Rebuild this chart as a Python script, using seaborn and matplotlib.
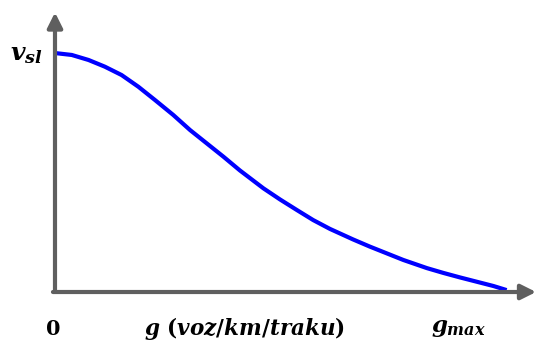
import numpy as np
import pandas as pd
import matplotlib
matplotlib.use('Agg')
import matplotlib.pyplot as plt
import seaborn as sns

# datos (g en % de g_max, v en % de v_sl)
g_vals = [0.0, 3.7, 7.4, 11.0, 14.7, 18.4, 22.1, 26.1, 29.8, 33.5, 37.2, 40.8,
          46.0, 49.7, 53.4, 57.0, 60.7, 65.8, 69.5, 73.2, 76.9, 82.1, 85.7,
          89.4, 93.1, 96.8, 99.7]
v_vals = [100, 99.2, 97.1, 94.3, 90.8, 85.9, 80.3, 74.1, 67.8, 62.2, 56.6, 50.9,
          43.4, 38.7, 34.3, 30.1, 26.4, 22.0, 19.0, 16.2, 13.4, 10.0, 8.0,
          6.1, 4.3, 2.5, 0.8]

lbl_y = r'$v_{sl}$'
lbl_x = r'$g\ (voz/km/traku)$'
lbl_0 = r'$\mathbf{0}$'
lbl_max = r'$g_{max}$'

df = pd.DataFrame({'g': g_vals, 'v': v_vals})

sns.set_style('white')
plt.rcParams['mathtext.fontset'] = 'custom'
plt.rcParams['mathtext.it'] = 'DejaVu Serif:bold:italic'
plt.rcParams['mathtext.rm'] = 'DejaVu Serif:bold'
plt.rcParams['mathtext.bf'] = 'DejaVu Serif:bold'

fig = plt.figure(figsize=(5.36, 3.43), dpi=100)
ax = fig.add_axes([0, 0, 1, 1])

sns.lineplot(data=df, x='g', y='v', color='#0000ff', linewidth=3, ax=ax,
             solid_capstyle='butt', solid_joinstyle='round', zorder=3)

# ejes con flechas
axis_col = '#5f5f5f'
ax.annotate('', xy=(0, 117), xytext=(0, 0),
            arrowprops=dict(arrowstyle='-|>,head_length=0.9,head_width=0.45',
                            lw=3, color=axis_col, shrinkA=0, shrinkB=0))
ax.annotate('', xy=(106.2, 0), xytext=(-0.45, 0),
            arrowprops=dict(arrowstyle='-|>,head_length=0.9,head_width=0.45',
                            lw=3, color=axis_col, shrinkA=0, shrinkB=0))

ax.text(-6.3, 99.5, lbl_y, fontsize=18, ha='center', va='center', color='black')
ax.text(-0.4, -15.3, lbl_0, fontsize=15, ha='center', va='center', color='black')
ax.text(41.9, -15.3, lbl_x, fontsize=15.5, ha='center', va='center', color='black')
ax.text(89.0, -15.0, lbl_max, fontsize=16.5, ha='center', va='center', color='black')

ax.set_xlim(-12.14, 106.18)
ax.set_ylim(-21.34, 122.2)
ax.axis('off')

fig.savefig('out.png', dpi=100)
